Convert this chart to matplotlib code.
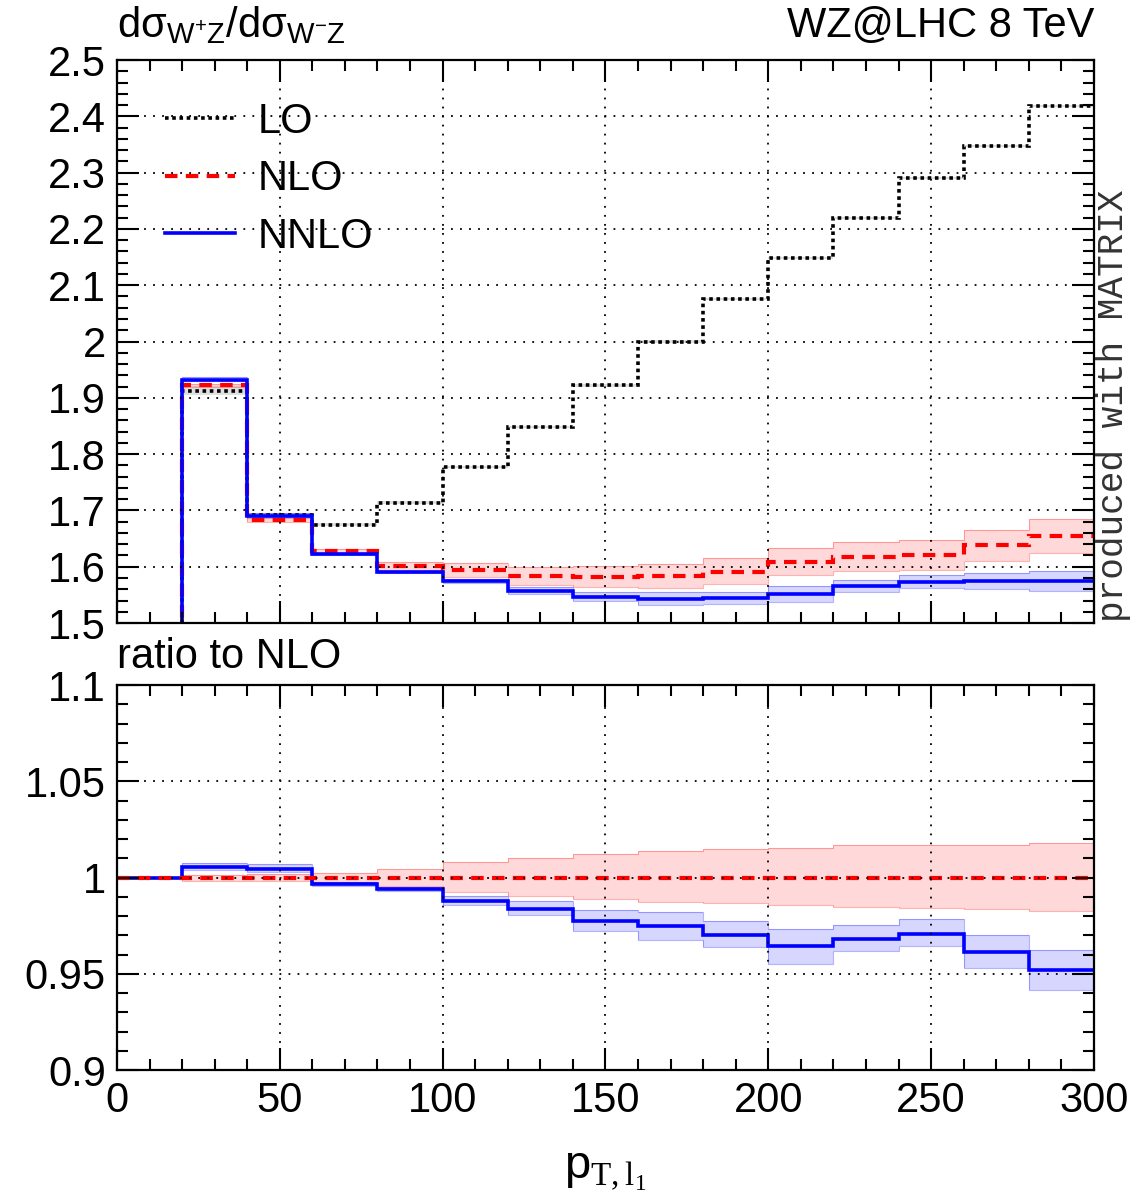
import numpy as np
import matplotlib
matplotlib.use("Agg")
import matplotlib.pyplot as plt
from matplotlib.ticker import MultipleLocator
from matplotlib.lines import Line2D

plt.rcParams['font.family'] = ['Liberation Sans', 'DejaVu Sans']
plt.rcParams['mathtext.fontset'] = 'custom'
plt.rcParams['mathtext.rm'] = 'Liberation Sans'
plt.rcParams['mathtext.it'] = 'Liberation Sans:italic'
plt.rcParams['mathtext.sf'] = 'Liberation Serif'

# ---- data ----
edges = [0, 20, 40, 60, 80, 100, 120, 140, 160, 180, 200, 220, 240, 260, 280, 300]
lo = [0, 1.913, 1.692, 1.675, 1.714, 1.777, 1.848, 1.922, 2.000, 2.075, 2.148, 2.220, 2.290, 2.347, 2.418]
lo_hi = [0, 1.921, 1.696, 1.677, 1.716, 1.779, 1.850, 1.924, 2.002, 2.077, 2.150, 2.222, 2.292, 2.349, 2.420]
lo_lo = [0, 1.905, 1.688, 1.673, 1.712, 1.775, 1.846, 1.920, 1.998, 2.073, 2.146, 2.218, 2.288, 2.345, 2.416]

nlo = [0, 1.922, 1.683, 1.628, 1.601, 1.594, 1.583, 1.582, 1.583, 1.591, 1.609, 1.617, 1.620, 1.638, 1.654]
nlo_hi = [0, 1.925, 1.686, 1.632, 1.608, 1.607, 1.599, 1.601, 1.605, 1.615, 1.634, 1.644, 1.647, 1.666, 1.684]
nlo_lo = [0, 1.919, 1.680, 1.624, 1.594, 1.582, 1.568, 1.564, 1.563, 1.570, 1.586, 1.592, 1.594, 1.611, 1.625]

nnlo = [0, 1.9324, 1.6902, 1.6226, 1.5912, 1.5744, 1.5569, 1.5464, 1.5431, 1.5437, 1.5520, 1.5651, 1.5727, 1.5746, 1.5748]
nnlo_hi = [0, 1.9366, 1.6949, 1.6242, 1.5928, 1.5790, 1.5640, 1.5554, 1.5550, 1.5550, 1.5660, 1.5772, 1.5852, 1.5890, 1.5920]
nnlo_lo = [0, 1.9297, 1.6877, 1.6210, 1.5896, 1.5715, 1.5523, 1.5383, 1.5316, 1.5332, 1.5367, 1.5552, 1.5620, 1.5610, 1.5572]

x_ticks = [0, 50, 100, 150, 200, 250, 300]
top_yticks = [1.5, 1.6, 1.7, 1.8, 1.9, 2.0, 2.1, 2.2, 2.3, 2.4, 2.5]
top_ylabels = ['1.5', '1.6', '1.7', '1.8', '1.9', '2', '2.1', '2.2', '2.3', '2.4', '2.5']
bot_yticks = [0.9, 0.95, 1.0, 1.05, 1.1]
bot_ylabels = ['0.9', '0.95', '1', '1.05', '1.1']

edges = np.array(edges, dtype=float)
nlo_a = np.array(nlo)
def ratio(v):
    v = np.array(v, dtype=float)
    return np.where(nlo_a > 0, v / np.where(nlo_a > 0, nlo_a, 1), 1.0)

RED = '#ff0000'
BLUE = '#0000ff'
PINK = (1.0, 0.0, 0.0, 0.15)
LBLUE = (0.0, 0.0, 1.0, 0.16)
GREY = (0.0, 0.0, 0.0, 0.12)

fig = plt.figure(figsize=(11.4, 12), dpi=100)
ax1 = fig.add_axes([0.1026, 0.4808, 0.857, 0.4692])
ax2 = fig.add_axes([0.1026, 0.1083, 0.857, 0.3208])

FS = 30

def style(ax):
    ax.set_xlim(0, 300)
    ax.xaxis.set_major_locator(MultipleLocator(50))
    ax.xaxis.set_minor_locator(MultipleLocator(10))
    ax.tick_params(which='both', direction='in', top=True, right=True, labelsize=FS, width=1.5)
    ax.tick_params(which='major', length=16, pad=8)
    ax.tick_params(which='minor', length=8)
    for s in ax.spines.values():
        s.set_linewidth(1.6)
    ax.set_axisbelow(False)
    ax.grid(True, which='major', color='black', linestyle=(0, (1, 4)), linewidth=1.3)

dash_nlo = (0, (3, 2))
dot_lo = (0, (1, 1))

# ---- top panel ----
ax1.stairs(lo_hi, edges, baseline=lo_lo, fill=True, color=GREY, lw=0)
ax1.stairs(nlo_hi, edges, baseline=nlo_lo, fill=True, color=PINK, lw=0)
ax1.stairs(nnlo_hi, edges, baseline=nnlo_lo, fill=True, color=LBLUE, lw=0)
for arr, c in [(nlo_hi, (1, 0, 0, 0.3)), (nlo_lo, (1, 0, 0, 0.3)), (nnlo_hi, (0, 0, 1, 0.3)), (nnlo_lo, (0, 0, 1, 0.3))]:
    ax1.stairs(arr, edges, color=c, lw=0.8, baseline=None)
ax1.stairs(lo, edges, color='black', lw=2.6, linestyle=dot_lo, baseline=None)
ax1.stairs(nlo, edges, color=RED, lw=3, linestyle=dash_nlo, baseline=None)
ax1.stairs(nnlo, edges, color=BLUE, lw=2.6, baseline=None)
style(ax1)
ax1.set_ylim(1.5, 2.5)
ax1.yaxis.set_minor_locator(MultipleLocator(0.02))
ax1.set_yticks(top_yticks)
ax1.set_yticklabels(top_ylabels)
ax1.set_xticks(x_ticks)
ax1.tick_params(labelbottom=False)

handles = [Line2D([], [], color='black', lw=2.6, linestyle=dot_lo),
           Line2D([], [], color=RED, lw=3, linestyle=dash_nlo),
           Line2D([], [], color=BLUE, lw=2.6)]
ax1.legend(handles, ['LO', 'NLO', 'NNLO'], loc='upper left', bbox_to_anchor=(0.049, 0.926),
           frameon=False, fontsize=FS, borderaxespad=0, borderpad=0,
           handlelength=1.68, handletextpad=0.55, labelspacing=0.42)

ax1.text(0.0, 1.041, 'dσ$_{\\mathrm{W^{+}Z}}$/dσ$_{\\mathrm{W^{-}Z}}$', transform=ax1.transAxes,
         fontsize=FS, ha='left', va='baseline')
ax1.text(1.0, 1.041, 'WZ@LHC 8 TeV', transform=ax1.transAxes, fontsize=FS, ha='right', va='baseline')
fig.text(0.977, 0.482, 'produced with MATRIX', rotation=90, ha='center', va='bottom',
         fontsize=26, family='Liberation Mono', color='#333333')

# ---- bottom panel ----
ax2.stairs(ratio(nlo_hi), edges, baseline=ratio(nlo_lo), fill=True, color=PINK, lw=0)
ax2.stairs(ratio(nnlo_hi), edges, baseline=ratio(nnlo_lo), fill=True, color=LBLUE, lw=0)
for arr, c in [(nlo_hi, (1, 0, 0, 0.3)), (nlo_lo, (1, 0, 0, 0.3)), (nnlo_hi, (0, 0, 1, 0.3)), (nnlo_lo, (0, 0, 1, 0.3))]:
    ax2.stairs(ratio(arr), edges, color=c, lw=0.8, baseline=None)
ax2.stairs(ratio(nnlo), edges, color=BLUE, lw=2.6, baseline=None)
ax2.stairs(ratio(nlo), edges, color=RED, lw=3, linestyle=dash_nlo, baseline=None)
style(ax2)
ax2.set_ylim(0.9, 1.1)
ax2.yaxis.set_minor_locator(MultipleLocator(0.01))
ax2.set_yticks(bot_yticks)
ax2.set_yticklabels(bot_ylabels)
ax2.set_xticks(x_ticks)
ax2.set_xticklabels([str(v) for v in x_ticks])
ax2.text(0.0, 1.044, 'ratio to NLO', transform=ax2.transAxes, fontsize=FS, ha='left', va='baseline')
ax2.set_xlabel('p$_{\\mathsf{T,l}_{\\mathsf{1}}}$', fontsize=FS + 4, labelpad=20)

fig.savefig('out.png', dpi=100)
